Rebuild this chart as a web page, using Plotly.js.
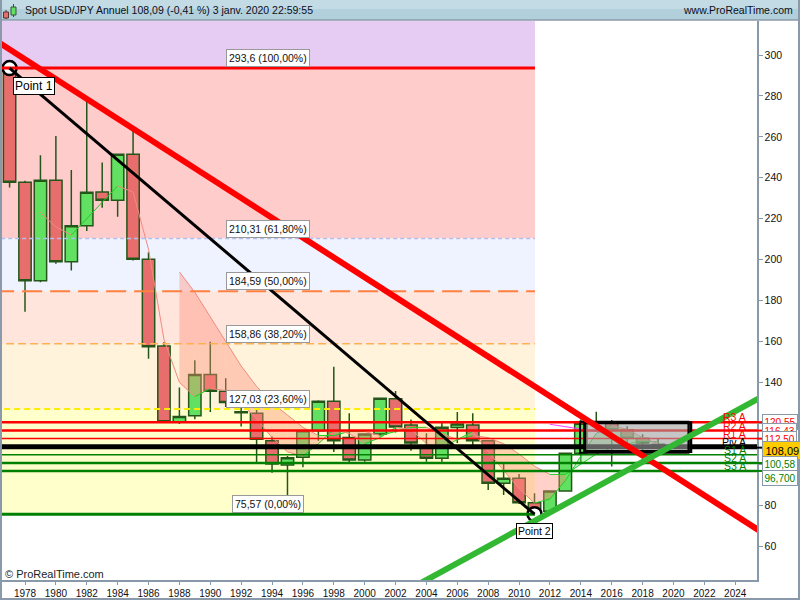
<!DOCTYPE html>
<html><head><meta charset="utf-8">
<script src="https://cdn.plot.ly/plotly-3.0.1.min.js"></script>
<style>html,body{margin:0;padding:0;background:#fff;overflow:hidden}#chart{width:800px;height:600px}</style>
</head><body><div id="chart"></div>
<script>
// ---- data ----
const years = [1977,1978,1979,1980,1981,1982,1983,1984,1985,1986,1987,1988,1989,1990,1991,1992,1993,1994,1995,1996,1997,1998,1999,2000,2001,2002,2003,2004,2005,2006,2007,2008,2009,2010,2011,2012,2013,2014,2015,2016,2017,2018,2019,2020];
const open  = [292.5,237.8,189.7,238.8,199.0,216.6,233.0,229.0,251.5,200.2,157.8,120.5,123.7,143.8,135.6,125.6,124.9,111.5,99.6,103.4,116.4,130.8,113.1,102.0,114.7,132.0,119.2,107.8,102.9,117.9,119.2,111.5,90.7,93.1,81.2,77.0,86.9,105.3,120.0,120.3,116.8,112.7,109.7,108.6];
const high  = [293.6,238.5,251.0,260.4,243.8,277.2,247.5,251.5,262.9,203.6,159.6,137.5,150.8,159.8,142.0,127.6,127.5,113.5,104.0,116.3,131.2,147.6,124.9,114.9,132.0,135.8,121.9,115.1,120.8,125.5,124.9,111.8,100.4,95.2,85.8,86.9,105.4,121.8,125.6,121.6,118.6,114.6,112.4,108.6];
const low   = [235.3,174.5,188.9,198.0,194.7,214.0,225.4,221.0,199.5,151.5,120.5,119.7,122.0,125.5,128.0,118.4,100.4,95.8,80.0,98.5,111.5,106.0,100.7,101.2,113.5,115.5,106.6,101.2,101.2,110.3,109.4,87.4,85.0,80.5,75.57,76.0,86.5,100.8,116.0,98.9,107.3,104.6,104.5,108.0];
const close = [237.8,189.7,238.8,199.0,216.6,232.9,229.0,251.5,200.2,157.4,120.8,123.3,143.8,135.6,130.2,125.2,112.2,100.1,103.2,116.3,130.8,111.5,102.0,114.7,132.2,118.2,110.3,102.9,118.0,119.6,111.5,90.7,93.1,81.2,76.8,86.9,105.3,120.0,120.3,116.8,112.7,110.3,108.6,108.09];

// fast average and slow average (each drawn green when rising, salmon when falling)
const maYearsA = [1979,1980,1981,1982,1983,1984,1985,1986,1987,1988,1989,1990,1991,1992,1993,1994,1995,1996,1997,1998,1999,2000,2001,2002,2003,2004,2005,2006,2007,2008,2009,2010,2011,2012,2013,2014,2015,2016,2017,2018,2019];
const maA = [223,216,212,220,228,236,233,205,161,140,133,137,136,130,122,113,106,104,110,117,115,110,113,118,117,110,108,112,116,106,97,88,81,83,92,104,115,119,117,113,110];
const maYearsB = [1988,1989,1990,1991,1992,1993,1994,1995,1996,1997,1998,1999,2000,2001,2002,2003,2004,2005,2006,2007,2008,2009,2010,2011,2012,2013,2014,2015,2016,2017,2018,2019];
const maB = [194,184,172,160,148,138,130,124,118,114,114,116,116,114,116,118,118,115,112,114,113,110,105,99,95,95,100,105,108,110,111,111];
// short magenta line seen around 2012-2016
const magYears = [2012,2013,2014,2015,2016];
const magValues = [119.5,118.4,117.3,116.0,114.6];

// Fibonacci retracement
const fibLevels = [293.6, 210.31, 184.59, 158.86, 127.03, 75.57];
const fibLabels = ['293,6 (100,00%)','210,31 (61,80%)','184,59 (50,00%)','158,86 (38,20%)','127,03 (23,60%)','75,57 (0,00%)'];
const fibStart = 1976.0, fibEnd = 2011.03;
const fibPoints = {x:[1977, 2011], y:[293.6, 75.57], label:['Point 1','Point 2']};

// pivot levels
const pivNames = ['R3 A','R2 A','R1 A','Piv A','S1 A','S2 A','S3 A'];
const pivValues = [120.55, 116.43, 112.5, 108.49, 104.58, 100.58, 96.7];

// trend lines
const redTrend = {x:[1976.0, 2026.0], y:[307.6, 65.4]};
const greenTrend = {x:[2003.0, 2026.0], y:[39.3, 134.1]};

// zone box
const zoneBox = {x:[2013.95, 2021.12], y:[105.6, 120.8]};

// right axis value tags
const tagText = ['120,55','116,43','112,50','108,09','100,58','96,700'];
const tagValue = [120.55, 116.43, 112.5, 108.09, 100.58, 96.7];

// ---- build ----
const X0 = 1976.51, X1 = 2025.41, Y0 = 43.4, Y1 = 316.62;
const traces = [];
const UP = '#22cc22', DOWN = '#f08a80';

for (let i = 0; i < maYearsB.length - 1; i++) {
  const y = maYearsB[i], y2 = maYearsB[i+1];
  const ia = maYearsA.indexOf(y), ia2 = maYearsA.indexOf(y2);
  if (ia < 0 || ia2 < 0) continue;
  const up = (maA[ia] + maA[ia2]) > (maB[i] + maB[i+1]);
  traces.push({type:'scatter', mode:'lines', x:[y,y2,y2,y,y], y:[maA[ia],maA[ia2],maB[i+1],maB[i],maA[ia]],
    fill:'toself', fillcolor: up ? 'rgba(120,235,120,0.45)' : 'rgba(255,140,120,0.40)', line:{width:0}, hoverinfo:'skip'});
}
function dirLine(xs, ys, w) {
  for (let i = 0; i < xs.length - 1; i++) {
    traces.push({type:'scatter', mode:'lines', x:[xs[i], xs[i+1]], y:[ys[i], ys[i+1]],
      line:{color: ys[i+1] >= ys[i] ? UP : DOWN, width:w}, hoverinfo:'skip'});
  }
}
dirLine(maYearsB, maB, 1);
dirLine(maYearsA, maA, 1);
traces.push({type:'scatter', mode:'lines', x:magYears, y:magValues, line:{color:'#ff40ff', width:1}, hoverinfo:'skip'});

traces.push({type:'candlestick', x:years, open:open, high:high, low:low, close:close,
  increasing:{line:{color:'#24561a', width:1.5}, fillcolor:'#62e062'},
  decreasing:{line:{color:'#24561a', width:1.5}, fillcolor:'#e86e6e'},
  whiskerwidth:0, hoverinfo:'skip'});

traces.push({type:'scatter', mode:'markers', x:fibPoints.x, y:fibPoints.y,
  marker:{size:14, color:'#ffffff', line:{color:'#000', width:2.5}}, hoverinfo:'skip', cliponaxis:false});

const shapes = [];
const bandColors = ['#e6ccf2','#ffcccc','#eff3ff','#ffe5dc','#fff3dc','#ffffcc'];
const bandTops = [400].concat(fibLevels.slice(0,5));
for (let i = 0; i < 6; i++) {
  shapes.push({type:'rect', xref:'x', yref:'y', x0:fibStart, x1:fibEnd, y0:fibLevels[i], y1:bandTops[i],
    fillcolor:bandColors[i], line:{width:0}, layer:'below'});
}
const fibLineStyles = [
  {color:'#ff0000', width:3, dash:'solid'},
  {color:'#b0c0ee', width:1.5, dash:'4px,3px'},
  {color:'#ff8040', width:2, dash:'20px,8px'},
  {color:'#ffb050', width:1.5, dash:'8px,4px'},
  {color:'#ffee00', width:2, dash:'6px,4px'},
  {color:'#008000', width:3, dash:'solid'}];
fibLevels.forEach((v,i) => shapes.push({type:'line', xref:'x', yref:'y', x0:fibStart, x1:fibEnd, y0:v, y1:v, line:fibLineStyles[i], layer:'above'}));

const pivStyles = [
  {color:'#ff0000', width:2.5},{color:'#ff0000', width:2.5},{color:'#ff0000', width:1.5},
  {color:'#000000', width:5},
  {color:'#008000', width:1.5},{color:'#008000', width:2.5},{color:'#008000', width:2.5}];
pivValues.forEach((v,i) => shapes.push({type:'line', xref:'x', yref:'y', x0:1970, x1:2030, y0:v, y1:v, line:pivStyles[i], layer:'above'}));

shapes.push({type:'rect', xref:'x', yref:'y', x0:zoneBox.x[0]+0.3, x1:zoneBox.x[1], y0:zoneBox.y[0]+0.6, y1:zoneBox.y[1]-0.6,
  fillcolor:'rgba(160,160,160,0.6)', line:{color:'#000', width:3}, layer:'above'});
shapes.push({type:'rect', xref:'x', yref:'y', x0:zoneBox.x[0], x1:zoneBox.x[1]-0.15, y0:zoneBox.y[0], y1:zoneBox.y[1],
  fillcolor:'rgba(0,0,0,0)', line:{color:'#000', width:2}, layer:'above'});

shapes.push({type:'line', xref:'x', yref:'y', x0:fibPoints.x[0], y0:fibPoints.y[0], x1:fibPoints.x[1], y1:fibPoints.y[1], line:{color:'#000', width:3}, layer:'above'});
shapes.push({type:'line', xref:'x', yref:'y', x0:redTrend.x[0], y0:redTrend.y[0], x1:redTrend.x[1], y1:redTrend.y[1], line:{color:'#ff0000', width:6}, layer:'above'});
shapes.push({type:'line', xref:'x', yref:'y', x0:greenTrend.x[0], y0:greenTrend.y[0], x1:greenTrend.x[1], y1:greenTrend.y[1], line:{color:'#33b833', width:6}, layer:'above'});

// header + frame (paper coords; plot area = px x 2..757, y 21..580)
const pw = 755, ph = 559;
const px = v => (v - 2) / pw, py = v => (580 - v) / ph;
shapes.push({type:'rect', xref:'paper', yref:'paper', x0:px(0), x1:px(800), y0:py(20), y1:py(0), fillcolor:'#b2d0dc', line:{width:0}});
shapes.push({type:'rect', xref:'paper', yref:'paper', x0:px(0), x1:px(800), y0:py(9), y1:py(0), fillcolor:'#c2dbe5', line:{width:0}});
shapes.push({type:'line', xref:'paper', yref:'paper', x0:px(0), x1:px(800), y0:py(20), y1:py(20), line:{color:'#8a9aaa', width:1.5}});
shapes.push({type:'line', xref:'paper', yref:'paper', x0:px(1), x1:px(1), y0:py(0), y1:py(600), line:{color:'#8a9aaa', width:2}});
shapes.push({type:'line', xref:'paper', yref:'paper', x0:px(799), x1:px(799), y0:py(0), y1:py(600), line:{color:'#8a9aaa', width:2}});
shapes.push({type:'line', xref:'paper', yref:'paper', x0:px(0), x1:px(800), y0:py(599), y1:py(599), line:{color:'#8a9aaa', width:2}});
shapes.push({type:'line', xref:'paper', yref:'paper', x0:px(6), x1:px(6), y0:py(10), y1:py(19), line:{color:'#553333', width:1}});
shapes.push({type:'rect', xref:'paper', yref:'paper', x0:px(3.5), x1:px(8.5), y0:py(12), y1:py(18), fillcolor:'#e86e6e', line:{color:'#553333', width:1}});
shapes.push({type:'line', xref:'paper', yref:'paper', x0:px(13.5), x1:px(13.5), y0:py(4), y1:py(17), line:{color:'#335533', width:1}});
shapes.push({type:'rect', xref:'paper', yref:'paper', x0:px(11), x1:px(16), y0:py(7), y1:py(15), fillcolor:'#62e062', line:{color:'#335533', width:1}});
tagValue.forEach((v,i) => shapes.push({type:'line', xref:'paper', yref:'y', x0:px(757), x1:px(762), y0:v, y1:v, line:{color: i<3 ? '#ff0000' : (i==3 ? '#000' : '#008000'), width:2}}));

const annotations = [];
const F = 'Liberation Sans';
annotations.push({xref:'paper', yref:'paper', x:px(23), y:py(10.5), xanchor:'left', yanchor:'middle', showarrow:false,
  text:'Spot USD/JPY Annuel 108,09 (-0,41 %) 3 janv. 2020 22:59:55', font:{family:F, size:10.5, color:'#0d0d1a'}});
annotations.push({xref:'paper', yref:'paper', x:px(795), y:py(10.5), xanchor:'right', yanchor:'middle', showarrow:false,
  text:'www.ProRealTime.com', font:{family:F, size:10.5, color:'#0d0d1a'}});
annotations.push({xref:'paper', yref:'paper', x:px(3), y:py(574), xanchor:'left', yanchor:'middle', showarrow:false,
  text:'© ProRealTime.com', font:{family:F, size:11, color:'#222'}});
fibLevels.forEach((v,i) => annotations.push({xref:'x', yref:'y', x:1993.74, y:v, xanchor:'center', yanchor:'bottom', yshift:1, showarrow:false,
  text:fibLabels[i], font:{family:F, size:10.5, color:'#111'}, bgcolor:'#ffffff', bordercolor:'#999999', borderwidth:1, borderpad:2}));
annotations.push({xref:'x', yref:'y', x:fibPoints.x[0], y:fibPoints.y[0], xanchor:'right', yanchor:'top', xshift:45, yshift:-9, showarrow:false,
  text:fibPoints.label[0], font:{family:F, size:12, color:'#000'}, bgcolor:'#ffffff', bordercolor:'#000', borderwidth:1, borderpad:1});
annotations.push({xref:'x', yref:'y', x:fibPoints.x[1], y:fibPoints.y[1], xanchor:'center', yanchor:'top', yshift:-9, showarrow:false,
  text:fibPoints.label[1], font:{family:F, size:10.5, color:'#000'}, bgcolor:'#ffffff', bordercolor:'#000', borderwidth:1, borderpad:1});
const pivColors = ['#ff0000','#ff0000','#ff0000','#000000','#008000','#008000','#008000'];
pivValues.forEach((v,i) => annotations.push({xref:'paper', yref:'y', x:px(748), y:v, xanchor:'right', yanchor:'middle', yshift:5, showarrow:false,
  text:pivNames[i], font:{family:F, size:10.5, color:pivColors[i]}}));
const tagShift = [0,0,0,-3,-1,-7];
tagValue.forEach((v,i) => annotations.push({xref:'paper', yref:'y', x:px(762), y:v, xanchor:'left', yanchor:'middle', yshift:tagShift[i], showarrow:false,
  text:tagText[i], font:{family:F, size: i==3 ? 11 : 10, color: i<3 ? '#ff0000' : (i==3 ? '#000' : '#008000')},
  bgcolor: i==3 ? '#ffcc00' : '#ffffff', bordercolor:'#8899aa', borderwidth:1, borderpad: i==3 ? 2.5 : 1.5}));

const layout = {
  width:800, height:600, margin:{l:2, r:43, t:21, b:20}, paper_bgcolor:'#ffffff', plot_bgcolor:'#ffffff',
  showlegend:false, boxgap:0.2, boxgroupgap:0, dragmode:false,
  xaxis:{range:[X0,X1], tick0:1978, dtick:2, ticks:'outside', ticklen:3, tickcolor:'#8899aa', showgrid:false, zeroline:false,
    showline:true, linecolor:'#8899aa', linewidth:1.5, tickfont:{family:F, size:10, color:'#111'}, rangeslider:{visible:false}, fixedrange:true},
  yaxis:{range:[Y0,Y1], side:'right', tick0:60, dtick:20, ticks:'outside', ticklen:4, tickcolor:'#8899aa', showgrid:false, zeroline:false,
    showline:true, linecolor:'#8899aa', linewidth:1.5, tickfont:{family:F, size:10.5, color:'#111'}, fixedrange:true},
  shapes:shapes, annotations:annotations
};
Plotly.newPlot('chart', traces, layout, {displayModeBar:false, staticPlot:true});
</script></body></html>
